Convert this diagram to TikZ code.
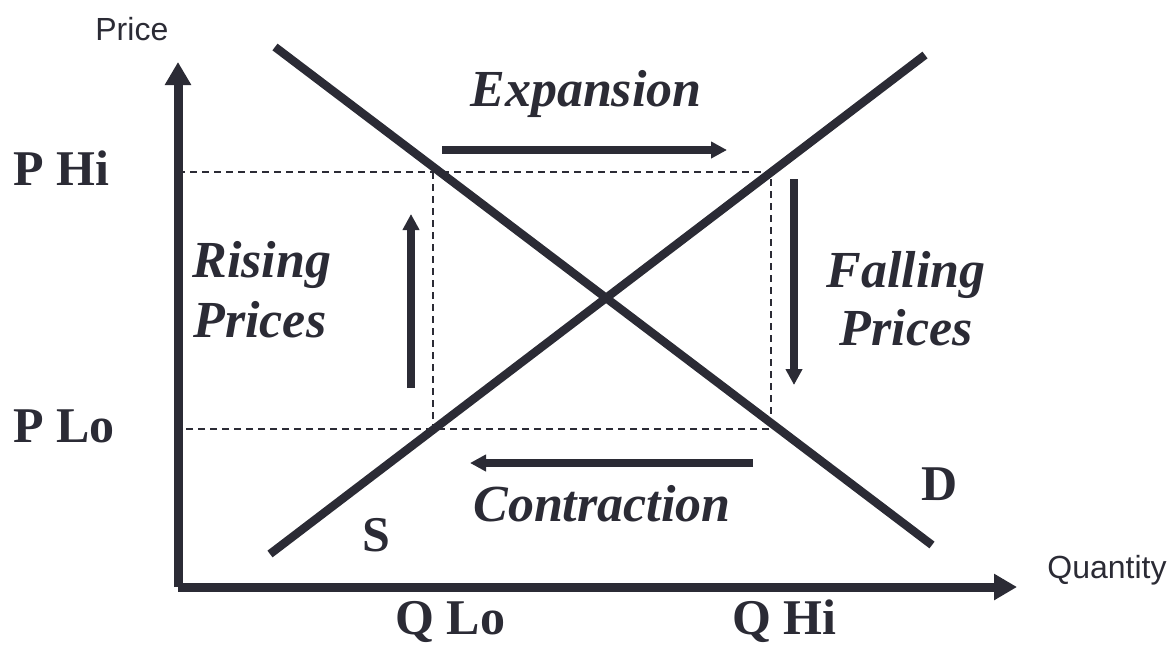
\documentclass[tikz,border=0pt]{standalone}
\usepackage{fontspec}
\setmainfont{Liberation Serif}
\newfontfamily\axisfont{Liberation Sans}
\usetikzlibrary{arrows.meta,positioning}
\definecolor{ink}{HTML}{2B2B35}

\begin{document}
\begin{tikzpicture}[x=0.5pt, y=-0.5pt,
    axis/.style={line width=4.5pt, draw=ink, -{Triangle[length=11.5pt,width=12.5pt]}},
    curve/.style={line width=4.2pt, draw=ink},
    guide/.style={line width=0.6pt, draw=ink, dash pattern=on 3.5pt off 2.5pt},
    move/.style={line width=4pt, draw=ink, -{Triangle[length=8pt,width=8pt]}},
    tick/.style={font=\bfseries\fontsize{25}{30}\selectfont, text=ink, inner sep=0pt},
    trend/.style={font=\bfseries\itshape\fontsize{26}{30}\selectfont, text=ink, inner sep=0pt},
    axlabel/.style={font=\axisfont\fontsize{16}{18}\selectfont, text=ink, inner sep=0pt}
]
\useasboundingbox (0,0) rectangle (1174,644);

% Axes
\coordinate (origin) at (178,587);
\coordinate (ytop) at (178,62);
\coordinate (xend) at (1017,587);
\draw[axis] (origin) -- (ytop);
\draw[axis] (origin) -- (xend);
\node[axlabel, anchor=base west] (price) at (95,40) {Price};
\node[axlabel, anchor=base west] (qty) at (1047,578) {Quantity};

% Guide lines
\coordinate (phi) at (178,172);
\coordinate (plo) at (178,429);
\coordinate (hl) at (433,172);
\coordinate (hr) at (771,172);
\coordinate (ll) at (433,429);
\coordinate (lr) at (771,429);
\draw[guide] (phi) -- (hr) -- (lr) -- (plo);
\draw[guide] (hl) -- (ll);

% Supply and demand
\coordinate (s0) at (270,554);
\coordinate (s1) at (925,55);
\coordinate (d0) at (275,47);
\coordinate (d1) at (932,545);
\draw[curve] (s0) -- (s1);
\draw[curve] (d0) -- (d1);
\node[tick, anchor=base west] (slab) at (362,551) {S};
\node[tick, anchor=base west] (dlab) at (921,500) {D};

% Price and quantity levels
\node[tick, anchor=base west] (philab) at (13,185) {P Hi};
\node[tick, anchor=base west] (plolab) at (13,442) {P Lo};
\node[tick, anchor=base west] (qlolab) at (395,634) {Q Lo};
\node[tick, anchor=base west] (qhilab) at (732,634) {Q Hi};

% Movements
\coordinate (e0) at (442,150);
\coordinate (e1) at (727,150);
\coordinate (c0) at (753,463);
\coordinate (c1) at (470,463);
\coordinate (r0) at (411,388);
\coordinate (r1) at (411,214);
\coordinate (f0) at (794,179);
\coordinate (f1) at (794,385);
\draw[move] (e0) -- (e1);
\draw[move] (c0) -- (c1);
\draw[move] (r0) -- (r1);
\draw[move] (f0) -- (f1);
\node[trend, anchor=base west] (explab) at (470,106) {Expansion};
\node[trend, anchor=base west] (conlab) at (473,521) {Contraction};
\node[trend, anchor=base west] (rise1) at (192,277) {Rising};
\node[trend, anchor=base west] (rise2) at (193,337) {Prices};
\node[trend, anchor=base] (fall1) at (906,287) {Falling};
\node[trend, anchor=base] (fall2) at (906,345) {Prices};
\end{tikzpicture}
\end{document}
